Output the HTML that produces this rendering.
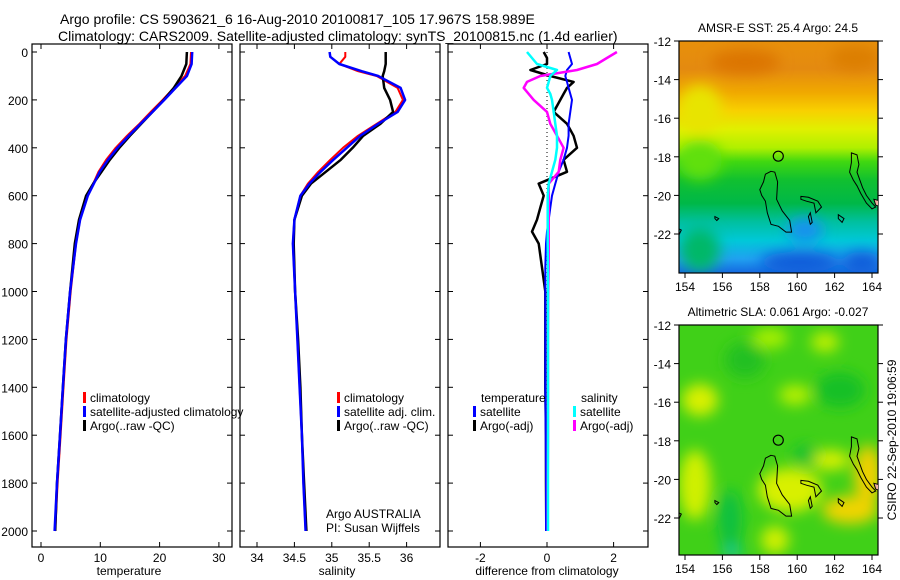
<!DOCTYPE html>
<html><head><meta charset="utf-8">
<style>
html,body{margin:0;padding:0;background:#fff;}
svg{display:block;font-family:"Liberation Sans","DejaVu Sans",sans-serif;}
</style></head>
<body>
<svg id="fig" width="900" height="580" viewBox="0 0 900 580" xmlns="http://www.w3.org/2000/svg">
<defs>
  <linearGradient id="sstGrad" x1="0" y1="0" x2="0" y2="1">
    <stop offset="0" stop-color="#e8900a"/>
    <stop offset="0.12" stop-color="#e48a10"/>
    <stop offset="0.22" stop-color="#f0a800"/>
    <stop offset="0.30" stop-color="#f8d000"/>
    <stop offset="0.38" stop-color="#e0f000"/>
    <stop offset="0.46" stop-color="#b0f000"/>
    <stop offset="0.52" stop-color="#40d810"/>
    <stop offset="0.60" stop-color="#10c030"/>
    <stop offset="0.70" stop-color="#00b848"/>
    <stop offset="0.78" stop-color="#00c0a0"/>
    <stop offset="0.86" stop-color="#00c8d8"/>
    <stop offset="0.94" stop-color="#20a0f0"/>
    <stop offset="1" stop-color="#1468e0"/>
  </linearGradient>
  <filter id="blur6"><feGaussianBlur stdDeviation="7"/></filter>
  <clipPath id="clipMap1"><rect x="679" y="41" width="199" height="232"/></clipPath>
  <clipPath id="clipMap2"><rect x="679" y="325" width="199" height="230"/></clipPath>
  <clipPath id="clipP1"><rect x="32" y="44" width="200" height="503"/></clipPath>
  <clipPath id="clipP2"><rect x="240" y="44" width="200" height="503"/></clipPath>
  <clipPath id="clipP3"><rect x="448" y="44" width="200" height="503"/></clipPath>
</defs>

<text x="60" y="24" font-size="14">Argo profile: CS 5903621_6 16-Aug-2010 20100817_105 17.967S 158.989E</text>
<text x="58" y="41" font-size="14">Climatology: CARS2009. Satellite-adjusted climatology: synTS_20100815.nc (1.4d earlier)</text>

<g id="p1"></g>
<g id="p2"></g>
<g id="p3"></g>

<g clip-path="url(#clipMap1)">
  <rect x="679" y="41" width="199" height="232" fill="url(#sstGrad)"/>
  <g filter="url(#blur6)">
    <ellipse cx="745" cy="62" rx="35" ry="12" fill="#dc7400"/>
    <ellipse cx="855" cy="58" rx="25" ry="12" fill="#dc7e00"/>
    <ellipse cx="700" cy="110" rx="22" ry="25" fill="#e8e400"/>
    <ellipse cx="700" cy="160" rx="22" ry="20" fill="#60e010"/>
    <ellipse cx="800" cy="262" rx="40" ry="10" fill="#1058d8"/>
    <ellipse cx="862" cy="262" rx="20" ry="10" fill="#1058d8"/>
    <ellipse cx="700" cy="250" rx="20" ry="22" fill="#00b868"/>
    <ellipse cx="805" cy="230" rx="18" ry="12" fill="#1890f0"/>
  </g>
</g>
<rect x="679" y="41" width="199" height="232" fill="none" stroke="#000" stroke-width="1.2"/>
<text x="778" y="32" font-size="12" text-anchor="middle">AMSR-E SST: 25.4  Argo: 24.5</text>
<g id="m1"></g>

<g clip-path="url(#clipMap2)">
  <rect x="679" y="325" width="199" height="230" fill="#40d018"/>
  <g filter="url(#blur6)">
    <ellipse cx="700" cy="400" rx="18" ry="16" fill="#d8f000"/>
    <ellipse cx="770" cy="338" rx="18" ry="10" fill="#a8f000"/>
    <ellipse cx="825" cy="342" rx="14" ry="10" fill="#c0f000"/>
    <ellipse cx="795" cy="395" rx="16" ry="10" fill="#b8f000"/>
    <ellipse cx="745" cy="360" rx="20" ry="18" fill="#20c020"/>
    <ellipse cx="840" cy="390" rx="25" ry="18" fill="#18c028"/>
    <ellipse cx="695" cy="485" rx="16" ry="35" fill="#d0f000"/>
    <ellipse cx="790" cy="490" rx="32" ry="22" fill="#d8f000"/>
    <ellipse cx="775" cy="540" rx="14" ry="14" fill="#d0f000"/>
    <ellipse cx="850" cy="510" rx="28" ry="14" fill="#f0d400"/>
    <ellipse cx="868" cy="475" rx="14" ry="30" fill="#f0d000"/>
    <ellipse cx="830" cy="460" rx="20" ry="10" fill="#d8f000"/>
    <ellipse cx="730" cy="520" rx="12" ry="30" fill="#10c040"/>
    <ellipse cx="732" cy="552" rx="10" ry="6" fill="#10c8a0"/>
    <ellipse cx="805" cy="455" rx="12" ry="10" fill="#18c030"/>
  </g>
</g>
<rect x="679" y="325" width="199" height="230" fill="none" stroke="#000" stroke-width="1.2"/>
<text x="778" y="316" font-size="12" text-anchor="middle">Altimetric SLA: 0.061  Argo: -0.027</text>
<g id="m2"></g>

<text transform="translate(896,440) rotate(-90)" font-size="12" text-anchor="middle">CSIRO 22-Sep-2010 19:06:59</text>
</svg>

<script>
const tDepths = [0,50,100,150,200,250,300,350,400,450,500,550,600,700,800,1000,1200,1400,1600,1800,2000];
const tempClim = [25.3,25.2,24.3,22.4,20.5,18.5,16.6,14.5,12.6,11.0,9.7,8.8,7.8,6.6,5.9,5.0,4.3,3.8,3.3,2.8,2.4];
const tempSat  = [25.5,25.4,24.6,22.7,20.8,18.8,16.8,14.8,12.9,11.3,9.9,8.9,7.9,6.6,5.9,4.9,4.2,3.7,3.2,2.7,2.3];
const tempArgo = [24.6,24.5,23.7,22.4,20.7,18.8,16.9,15.0,13.2,11.6,10.2,8.8,7.6,6.4,5.7,4.9,4.2,3.7,3.2,2.7,2.4];

const sDepths = [0,20,50,80,100,150,200,250,300,350,400,450,500,550,600,700,800,1000,1200,1400,1600,1800,2000];
const salClim = [35.18,35.18,35.10,35.35,35.60,35.88,35.95,35.85,35.60,35.35,35.15,34.98,34.82,34.68,34.58,34.50,34.48,34.51,34.54,34.57,34.60,34.62,34.65];
const salSat  = [34.97,34.98,35.10,35.40,35.62,35.92,35.98,35.88,35.62,35.38,35.20,35.02,34.85,34.70,34.58,34.50,34.48,34.51,34.54,34.57,34.60,34.62,34.65];
const salArgo = [35.72,35.72,35.72,35.70,35.68,35.70,35.78,35.82,35.65,35.42,35.28,35.12,34.92,34.72,34.60,34.50,34.49,34.51,34.55,34.58,34.60,34.63,34.66];

const dDepths = [0,25,50,75,100,125,150,175,200,250,300,350,400,450,500,550,600,650,700,750,800,900,1000,1200,1400,1600,1800,2000];
const diffTempSat  = [0.65,0.7,0.75,0.6,0.55,0.6,0.65,0.7,0.75,0.7,0.65,0.65,0.6,0.5,0.35,0.25,0.15,0.1,0.05,0.0,-0.03,-0.05,-0.05,-0.05,-0.05,-0.04,-0.03,-0.03];
const diffTempArgo = [-0.1,0.0,0.0,-0.5,0.1,0.8,0.6,0.5,0.4,0.2,0.6,0.8,0.9,0.5,0.6,-0.25,-0.1,-0.2,-0.3,-0.45,-0.25,-0.15,-0.05,-0.05,-0.05,-0.03,-0.03,-0.02];
const diffSalSat   = [-0.6,-0.45,-0.3,0.3,0.1,0.05,0.0,0.1,0.15,0.2,0.25,0.3,0.3,0.25,0.15,0.05,0.02,0.02,0.02,0.02,0.02,0.03,0.03,0.03,0.03,0.03,0.03,0.03];
const diffSalArgo  = [2.1,1.8,1.5,0.9,-0.2,-0.6,-0.7,-0.55,-0.4,0.0,0.1,0.3,0.5,0.4,0.35,0.05,0.05,0.05,0.05,0.05,0.05,0.05,0.04,0.03,0.03,0.03,0.02,0.02];

const depthTicks = [0,200,400,600,800,1000,1200,1400,1600,1800,2000];
const tempTicks = [0,10,20,30];
const salTicks = [34,34.5,35,35.5,36];
const salTickLabels = ["34","34.5","35","35.5","36"];
const diffTicks = [-2,0,2];
const lonTicks = [154,156,158,160,162,164];
const latTicks = [-12,-14,-16,-18,-20,-22];

const NS = "http://www.w3.org/2000/svg";
function mk(tag, attrs, parent){ const e=document.createElementNS(NS,tag); for(const k in attrs) e.setAttribute(k,attrs[k]); parent.appendChild(e); return e; }
const yD = d => 52 + d*0.2395;
const xT = v => 41 + v*5.93;
const xS = v => 257 + (v-34)*74.8;
const xDf = v => 547 + v*33.3;

function frame(g, x0, x1, name){
  const r = mk('rect',{x:x0,y:44,width:x1-x0,height:503,fill:'none',stroke:'#000','stroke-width':1.2},g);
  
  
}
function depthTicksDraw(g, x0, x1, labels){
  depthTicks.forEach(d=>{
    const y=yD(d);
    mk('line',{x1:x0,y1:y,x2:x0+5,y2:y,stroke:'#000'},g);
    mk('line',{x1:x1-5,y1:y,x2:x1,y2:y,stroke:'#000'},g);
    if(labels){
      const t=mk('text',{x:x0-4,y:y+5,'font-size':12,'text-anchor':'end'},g);
      t.textContent=d;
      
      
    }
  });
}
function xTicksDraw(g, ticks, labels, fx){
  ticks.forEach((v,i)=>{
    const x=fx(v);
    mk('line',{x1:x,y1:547,x2:x,y2:542,stroke:'#000'},g);
    mk('line',{x1:x,y1:44,x2:x,y2:49,stroke:'#000'},g);
    const t=mk('text',{x:x,y:562,'font-size':12,'text-anchor':'middle'},g);
    t.textContent=labels[i];
    
    
  });
}
function line(g, xs, ds, fx, color, w, name){
  const pts = xs.map((v,i)=>fx(v).toFixed(1)+','+yD(ds[i]).toFixed(1)).join(' ');
  const p = mk('polyline',{points:pts,fill:'none',stroke:color,'stroke-width':w,'stroke-linejoin':'round'},g);
  
  
}
function legendEntry(g, x, y, color, label, name){
  mk('rect',{x:x,y:y-10,width:3,height:11,fill:color},g);
  const t=mk('text',{x:x+7,y:y,'font-size':12},g);
  t.textContent=label;
  
  
}
function txt(g,x,y,s,name,anchor){
  const t=mk('text',{x:x,y:y,'font-size':12,'text-anchor':anchor||'start'},g);
  t.textContent=s;
  
  
}

const p1=document.getElementById('p1');
const c1=mk('g',{'clip-path':'url(#clipP1)'},p1);
line(c1,tempClim,tDepths,xT,'#ff0000',2,'temp-climatology-line');
line(c1,tempArgo,tDepths,xT,'#000000',2.5,'temp-argo-line');
line(c1,tempSat,tDepths,xT,'#0000ff',2.5,'temp-satellite-line');
frame(p1,32,232,'temperature-panel');
depthTicksDraw(p1,32,232,true);
xTicksDraw(p1,tempTicks,tempTicks.map(String),xT);
txt(p1,129,575,'temperature','temperature-axis-title','middle');
legendEntry(p1,83,402,'#ff0000','climatology','legend-climatology');
legendEntry(p1,83,416,'#0000ff','satellite-adjusted climatology','legend-satellite-adjusted');
legendEntry(p1,83,430,'#000000','Argo(..raw -QC)','legend-argo-raw');

const p2=document.getElementById('p2');
const c2=mk('g',{'clip-path':'url(#clipP2)'},p2);
line(c2,salClim,sDepths,xS,'#ff0000',2,'sal-climatology-line');
line(c2,salArgo,sDepths,xS,'#000000',2.5,'sal-argo-line');
line(c2,salSat,sDepths,xS,'#0000ff',2.5,'sal-satellite-line');
frame(p2,240,440,'salinity-panel');
depthTicksDraw(p2,240,440,false);
xTicksDraw(p2,salTicks,salTickLabels,xS);
txt(p2,337,575,'salinity','salinity-axis-title','middle');
legendEntry(p2,337,402,'#ff0000','climatology','legend-sal-climatology');
legendEntry(p2,337,416,'#0000ff','satellite adj. clim.','legend-sal-satellite');
legendEntry(p2,337,430,'#000000','Argo(..raw -QC)','legend-sal-argo');
txt(p2,326,518,'Argo AUSTRALIA','argo-australia-label');
txt(p2,326,532,'PI: Susan Wijffels','pi-label');

const p3=document.getElementById('p3');
const c3=mk('g',{'clip-path':'url(#clipP3)'},p3);
mk('line',{x1:xDf(0),y1:yD(0),x2:xDf(0),y2:yD(2000),stroke:'#000','stroke-dasharray':'1,3'},c3);
line(c3,diffTempArgo,dDepths,xDf,'#000000',2.5,'diff-temp-argo-line');
line(c3,diffTempSat,dDepths,xDf,'#0000ff',2,'diff-temp-satellite-line');
line(c3,diffSalArgo,dDepths,xDf,'#ff00ff',2.5,'diff-sal-argo-line');
line(c3,diffSalSat,dDepths,xDf,'#00ffff',2.5,'diff-sal-satellite-line');
frame(p3,448,648,'difference-panel');
depthTicksDraw(p3,448,648,false);
xTicksDraw(p3,diffTicks,diffTicks.map(String),xDf);
txt(p3,547,575,'difference from climatology','difference-axis-title','middle');
txt(p3,481,402,'temperature','legend-temp-header');
txt(p3,581,402,'salinity','legend-sal-header');
legendEntry(p3,473,416,'#0000ff','satellite','legend-diff-temp-satellite');
legendEntry(p3,473,430,'#000000','Argo(-adj)','legend-diff-temp-argo');
legendEntry(p3,573,416,'#00ffff','satellite','legend-diff-sal-satellite');
legendEntry(p3,573,430,'#ff00ff','Argo(-adj)','legend-diff-sal-argo');

function mapAxes(id, top, bottom){
  const g=document.getElementById(id);
  const lx = v => 685 + (v-154)*18.7;
  const ly = v => top + (-12 - v)*19.3;
  lonTicks.forEach(v=>{
    const x=lx(v);
    mk('line',{x1:x,y1:bottom,x2:x,y2:bottom+5,stroke:'#000'},g);
    const t=mk('text',{x:x,y:bottom+18,'font-size':12,'text-anchor':'middle'},g);
    t.textContent=v;
    
    
  });
  latTicks.forEach(v=>{
    const y=ly(v);
    mk('line',{x1:674,y1:y,x2:679,y2:y,stroke:'#000'},g);
    mk('line',{x1:878,y1:y,x2:883,y2:y,stroke:'#000'},g);
    const t=mk('text',{x:671,y:y+5,'font-size':12,'text-anchor':'end'},g);
    t.textContent=v;
    
    
  });
  const P = pts => pts.map(p=>lx(p[0]).toFixed(1)+','+ly(p[1]).toFixed(1)).join(' ');
  const coast=[
    [[158.6,-18.75],[158.8,-18.8],[158.95,-19.3],[158.9,-20.2],[159.2,-20.8],[159.6,-21.3],[159.7,-21.9],[159.4,-21.9],[159.0,-21.6],[158.6,-21.5],[158.4,-20.9],[158.3,-20.3],[158.1,-20.0],[158.0,-19.7],[158.2,-19.3],[158.3,-18.9]],
    [[162.9,-17.8],[163.2,-17.9],[163.3,-18.4],[163.2,-18.8],[163.5,-19.6],[163.7,-20.0],[164.0,-20.4],[164.2,-20.6],[164.0,-20.7],[163.7,-20.4],[163.4,-19.9],[163.2,-19.5],[163.0,-19.2],[162.8,-18.8],[162.9,-18.3]],
    [[160.2,-20.05],[160.6,-20.1],[161.1,-20.3],[161.3,-20.6],[161.0,-20.9],[160.9,-20.4],[160.5,-20.3],[160.2,-20.2]],
    [[162.2,-21.0],[162.5,-21.2],[162.4,-21.4],[162.2,-21.2]],
    [[160.7,-20.9],[160.8,-21.4],[160.7,-21.5],[160.6,-21.1]],
    [[155.6,-21.1],[155.8,-21.2],[155.7,-21.3],[155.6,-21.2]]
  ];
  const cg=mk('g',{'clip-path':'url(#clipMap'+(id==='m1'?1:2)+')'},g);
  coast.forEach(c=>{
    const pg=mk('polygon',{points:P(c),fill:'none',stroke:'#000','stroke-width':1},cg);
    
    
  });
  mk('polygon',{points:P([[164.1,-20.2],[164.5,-20.3],[164.5,-20.6],[164.2,-20.5]]),fill:'#f0b0a0',stroke:'#000'},cg);
  mk('polyline',{points:P([[153.6,-21.7],[153.8,-21.8],[153.6,-22.2]]),fill:'none',stroke:'#000'},cg);
  const c=mk('circle',{cx:lx(158.989),cy:ly(-17.967),r:5,fill:'none',stroke:'#000','stroke-width':1.2},g);
  
  
}
mapAxes('m1',41,273);
mapAxes('m2',325,555);
</script>
</body></html>
